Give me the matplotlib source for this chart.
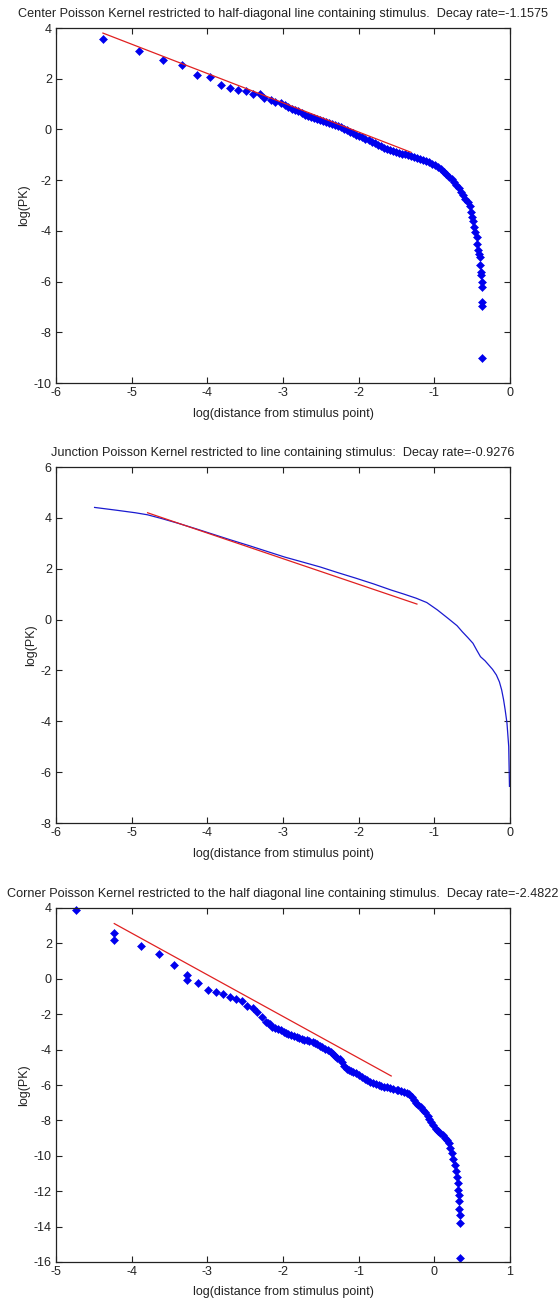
import matplotlib
matplotlib.use("Agg")
import matplotlib.pyplot as plt

plt.rcParams['font.family'] = ['Liberation Sans', 'DejaVu Sans']
plt.rcParams['axes.unicode_minus'] = False

# ---------------- Panel 1: Center kernel (scatter) ----------------
center_x = [-5.38, -4.90, -4.58, -4.33, -4.13, -3.96, -3.82, -3.70, -3.59, -3.49,
            -3.40, -3.31, -3.25, -3.16, -3.10, -3.03, -2.98, -2.93, -2.88, -2.84,
            -2.80, -2.75, -2.71, -2.67, -2.63, -2.59, -2.55, -2.51, -2.47, -2.43,
            -2.39, -2.35, -2.31, -2.27, -2.23, -2.19, -2.15, -2.11, -2.07, -2.03,
            -1.99, -1.95, -1.91, -1.87, -1.83, -1.79, -1.75, -1.71, -1.67, -1.63,
            -1.59, -1.55, -1.51, -1.47, -1.43, -1.39, -1.35, -1.31, -1.27, -1.23,
            -1.19, -1.15, -1.11, -1.07, -1.03, -0.99, -0.95, -0.91, -0.87, -0.84,
            -0.80, -0.77, -0.74, -0.71, -0.68, -0.65, -0.62, -0.59, -0.56, -0.53,
            -0.51, -0.50, -0.49, -0.47, -0.46, -0.44, -0.43, -0.42, -0.41, -0.40,
            -0.39, -0.38, -0.38, -0.37, -0.37, -0.37, -0.365, -0.365]
center_y = [3.55, 3.10, 2.72, 2.55, 2.15, 2.08, 1.75, 1.65, 1.57, 1.50,
            1.40, 1.40, 1.24, 1.15, 1.08, 1.03, 0.95, 0.88, 0.82, 0.75,
            0.72, 0.63, 0.58, 0.52, 0.48, 0.44, 0.41, 0.38, 0.35, 0.31,
            0.27, 0.22, 0.17, 0.12, 0.08, 0.03, -0.03, -0.10, -0.16, -0.20,
            -0.25, -0.30, -0.36, -0.42, -0.48, -0.55, -0.62, -0.67, -0.72, -0.77,
            -0.82, -0.86, -0.90, -0.93, -0.95, -0.98, -1.01, -1.04, -1.07, -1.11,
            -1.15, -1.19, -1.24, -1.29, -1.35, -1.42, -1.50, -1.58, -1.68, -1.76,
            -1.87, -1.97, -2.08, -2.20, -2.32, -2.46, -2.60, -2.73, -2.86, -3.00,
            -3.25, -3.45, -3.62, -3.85, -4.05, -4.26, -4.50, -4.75, -4.92, -5.05,
            -5.33, -5.62, -5.75, -6.03, -6.20, -6.81, -6.98, -9.03]
center_fit_x = [-5.38, -1.31]
center_fit_y = [3.80, -0.90]
center_title = "Center Poisson Kernel restricted to half-diagonal line containing stimulus.  Decay rate=-1.1575"

# ---------------- Panel 2: Junction kernel (line) ----------------
junction_x = [-5.49, -5.20, -4.95, -4.79, -4.60, -4.39, -4.15, -3.92, -3.70, -3.45,
              -3.20, -2.98, -2.75, -2.51, -2.28, -2.04, -1.80, -1.57, -1.40, -1.24,
              -1.10, -0.96, -0.82, -0.70, -0.63, -0.56, -0.49, -0.44, -0.39, -0.33,
              -0.28, -0.23, -0.18, -0.14, -0.11, -0.085, -0.064, -0.04, -0.017, -0.007]
junction_y = [4.41, 4.30, 4.20, 4.12, 3.97, 3.79, 3.57, 3.35, 3.14, 2.91,
              2.67, 2.46, 2.27, 2.07, 1.85, 1.63, 1.40, 1.16, 1.00, 0.84,
              0.67, 0.38, 0.05, -0.24, -0.48, -0.70, -0.93, -1.20, -1.46, -1.62,
              -1.79, -1.96, -2.18, -2.45, -2.77, -3.15, -3.55, -4.07, -4.99, -6.56]
junction_fit_x = [-4.79, -1.23]
junction_fit_y = [4.20, 0.61]
junction_title = "Junction Poisson Kernel restricted to line containing stimulus:  Decay rate=-0.9276"

# ---------------- Panel 3: Corner kernel (scatter) ----------------
corner_x = [-4.74, -4.23, -4.23, -3.88, -3.64, -3.44, -3.27, -3.27, -3.12, -2.99,
            -2.89, -2.79, -2.70, -2.62, -2.54, -2.47, -2.40, -2.34, -2.28, -2.23,
            -2.20, -2.17, -2.14, -2.10, -2.06, -2.03, -1.99, -1.96, -1.93, -1.89,
            -1.86, -1.82, -1.79, -1.75, -1.72, -1.68, -1.65, -1.61, -1.58, -1.55,
            -1.51, -1.48, -1.44, -1.41, -1.37, -1.34, -1.31, -1.28, -1.25, -1.22,
            -1.19, -1.16, -1.13, -1.10, -1.07, -1.04, -1.00, -0.96, -0.92, -0.89,
            -0.85, -0.81, -0.77, -0.73, -0.70, -0.66, -0.62, -0.58, -0.54, -0.50,
            -0.475, -0.44, -0.40, -0.36, -0.33, -0.30, -0.27, -0.24, -0.21, -0.18,
            -0.15, -0.12, -0.09, -0.07, -0.05, -0.02, 0.02, 0.05, 0.08, 0.11,
            0.14, 0.17, 0.19, 0.21, 0.23, 0.25, 0.27, 0.285, 0.30, 0.31,
            0.315, 0.32, 0.325, 0.33, 0.333, 0.34, 0.343]
corner_y = [3.90, 2.59, 2.22, 1.84, 1.41, 0.76, 0.19, -0.08, -0.26, -0.64,
            -0.77, -0.88, -1.04, -1.13, -1.28, -1.53, -1.67, -1.90, -2.18, -2.46,
            -2.52, -2.58, -2.70, -2.80, -2.86, -2.90, -2.99, -3.05, -3.12, -3.18,
            -3.24, -3.29, -3.33, -3.38, -3.43, -3.48, -3.52, -3.58, -3.63, -3.71,
            -3.78, -3.86, -3.97, -4.05, -4.12, -4.25, -4.38, -4.46, -4.53, -4.72,
            -4.95, -5.08, -5.15, -5.22, -5.28, -5.34, -5.44, -5.55, -5.65, -5.72,
            -5.81, -5.88, -5.95, -6.00, -6.04, -6.10, -6.14, -6.19, -6.22, -6.26,
            -6.28, -6.35, -6.41, -6.46, -6.51, -6.65, -6.85, -7.03, -7.15, -7.27,
            -7.39, -7.51, -7.75, -7.92, -8.07, -8.28, -8.48, -8.60, -8.70, -8.82,
            -8.98, -9.12, -9.29, -9.55, -9.85, -10.18, -10.51, -10.84, -11.17, -11.55,
            -11.92, -12.20, -12.54, -13.01, -13.35, -13.77, -15.78]
corner_fit_x = [-4.23, -0.57]
corner_fit_y = [3.12, -5.49]
corner_title = "Corner Poisson Kernel restricted to the half diagonal line containing stimulus.  Decay rate=-2.4822"

x_label = "log(distance from stimulus point)"
y_label = "log(PK)"

# ---------------- Figure ----------------
W, H = 558, 1304
fig = plt.figure(figsize=(W / 100, H / 100), dpi=100)
fig.patch.set_facecolor('white')

def axes_px(left, top, right, bottom):
    return fig.add_axes([left / W, 1 - bottom / H, (right - left) / W, (bottom - top) / H])

def style(ax, xlim, ylim, xticks, yticks, title):
    ax.set_xlim(*xlim)
    ax.set_ylim(*ylim)
    ax.set_xticks(xticks)
    ax.set_yticks(yticks)
    ax.set_xticklabels([str(t) for t in xticks])
    ax.set_yticklabels([str(t) for t in yticks])
    ax.tick_params(direction='in', length=4, width=0.8, top=True, right=True,
                   labelsize=9, colors='#222222', pad=3)
    for s in ax.spines.values():
        s.set_linewidth(0.9)
        s.set_color('#222222')
    ax.set_xlabel(x_label, fontsize=9, color='#222222', labelpad=6)
    ax.set_ylabel(y_label, fontsize=9, color='#222222', labelpad=3)
    ax.set_title(title, fontsize=9.1, color='#222222', pad=8)

mk = dict(linestyle='none', marker='D', markersize=4.0, color='#0000ee',
          markeredgecolor='#0000ee', markeredgewidth=0.4)

ax1 = axes_px(56, 28, 510, 383)
ax1.plot(center_x, center_y, **mk)
ax1.plot(center_fit_x, center_fit_y, color='#e02020', linewidth=0.9)
style(ax1, (-6, 0), (-10, 4), list(range(-6, 1)), list(range(-10, 5, 2)), center_title)

ax2 = axes_px(56, 467, 510, 823)
ax2.plot(junction_x, junction_y, color='#1a1ad0', linewidth=0.9)
ax2.plot(junction_fit_x, junction_fit_y, color='#e02020', linewidth=0.9)
style(ax2, (-6, 0), (-8, 6), list(range(-6, 1)), list(range(-8, 7, 2)), junction_title)

ax3 = axes_px(56, 908, 510, 1262)
ax3.plot(corner_x, corner_y, clip_on=False, **mk)
ax3.plot(corner_fit_x, corner_fit_y, color='#e02020', linewidth=0.9)
style(ax3, (-5, 1), (-16, 4), list(range(-5, 2)), list(range(-16, 5, 2)), corner_title)

fig.savefig("out.png", dpi=100, facecolor='white')
